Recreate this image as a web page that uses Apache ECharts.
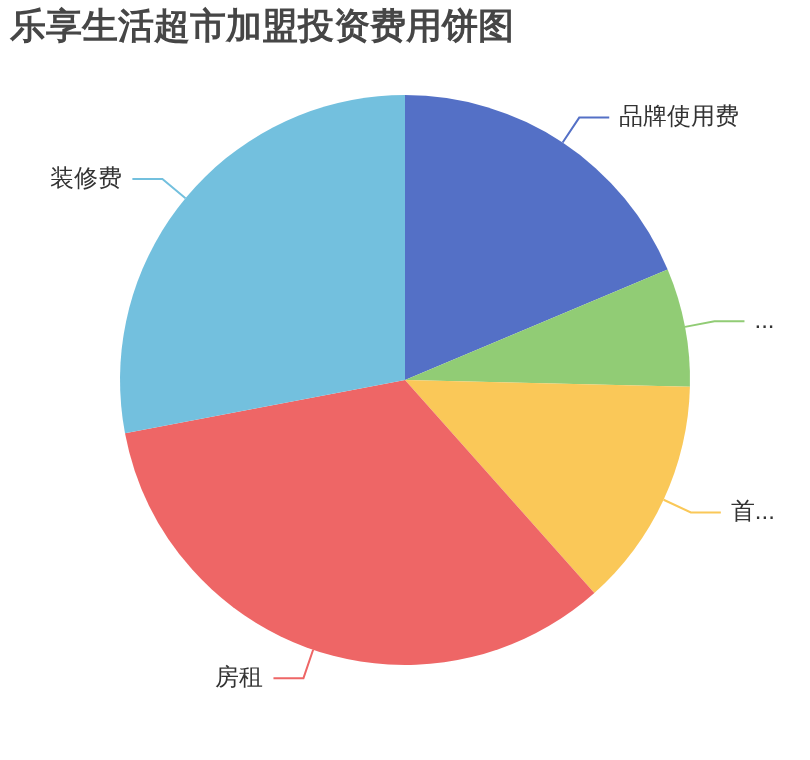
<!DOCTYPE html>
<html>
<head>
<meta charset="utf-8">
<script src="https://cdn.jsdelivr.net/npm/echarts@6/dist/echarts.min.js"></script>
<style>
html,body{margin:0;padding:0;background:#fff;}
#chart{width:810px;height:760px;}
</style>
</head>
<body>
<div id="chart"></div>
<script>
const titleText = '乐享生活超市加盟投资费用饼图';
const categories = ['品牌使用费', '保证金', '首批进货费', '房租', '装修费'];
const values = [5, 1.8, 3.5, 9, 7.5];
const palette = ['#5470c6', '#91cc75', '#fac858', '#ee6666', '#73c0de'];

const chart = echarts.init(document.getElementById('chart'));
chart.setOption({
  color: palette,
  title: {
    text: titleText,
    left: 0,
    top: 0,
    padding: 10,
    textStyle: { fontSize: 36, fontWeight: 'bold', color: '#464646' }
  },
  series: [{
    type: 'pie',
    left: 20,
    right: 20,
    radius: [0, '75%'],
    center: ['50%', '50%'],
    label: {
      fontSize: 24,
      color: '#333',
      distanceToLabelLine: 10
    },
    labelLine: {
      length: 30,
      length2: 30,
      lineStyle: { width: 2 }
    },
    data: categories.map((c, i) => ({ name: c, value: values[i] }))
  }]
});
</script>
</body>
</html>
